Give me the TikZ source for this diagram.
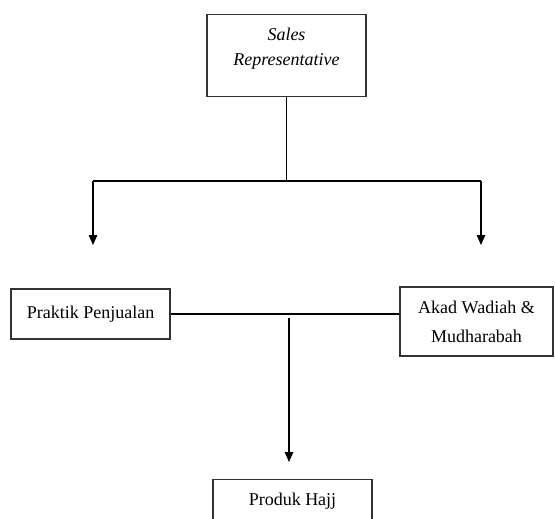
\documentclass[tikz,border=0pt]{standalone}
\usepackage{fontspec}
\setmainfont{Liberation Serif}
\usetikzlibrary{arrows.meta}

\begin{document}
\begin{tikzpicture}[x=0.025cm, y=-0.025cm, line width=0.8pt,
  every node/.style={font=\fontsize{12.8}{20.5}\selectfont},
  box/.style={draw=black!80, fill=white, minimum width=3.975cm, align=center},
  arr/.style={-{Triangle[width=6pt,length=7pt]}}]
\useasboundingbox (0,0) rectangle (555,519);
% top box and split
\node[box, anchor=north, minimum height=2.05cm, text depth=12.8pt,
  font=\itshape\fontsize{12.8}{17.7}\selectfont] (sales) at (286.5,14) {Sales\\Representative};
\coordinate (split) at (286.5,181);
\coordinate (splitL) at (93,181);
\coordinate (splitR) at (481,181);
\coordinate (tipL) at (93,245);
\coordinate (tipR) at (481,245);
\draw (sales) -- (split);
\draw (splitL) -- (splitR);
\draw[arr] (splitL) -- (tipL);
\draw[arr] (splitR) -- (tipR);
% middle row
\node[box, minimum height=1.25cm] (praktik) at (90.5,314) {Praktik Penjualan};
\node[box, minimum width=3.825cm, minimum height=1.725cm] (akad) at (476.5,321.5) {Akad Wadiah \&\\Mudharabah};
\draw (praktik.east) -- (praktik.east -| akad.west);
\coordinate (drop) at (289,318);
\coordinate (tipB) at (289,462);
\draw[arr] (drop) -- (tipB);
% bottom box
\node[box, anchor=north, minimum height=1.25cm, text depth=8pt] (produk) at (292.5,479) {Produk Hajj};
\end{tikzpicture}
\end{document}
